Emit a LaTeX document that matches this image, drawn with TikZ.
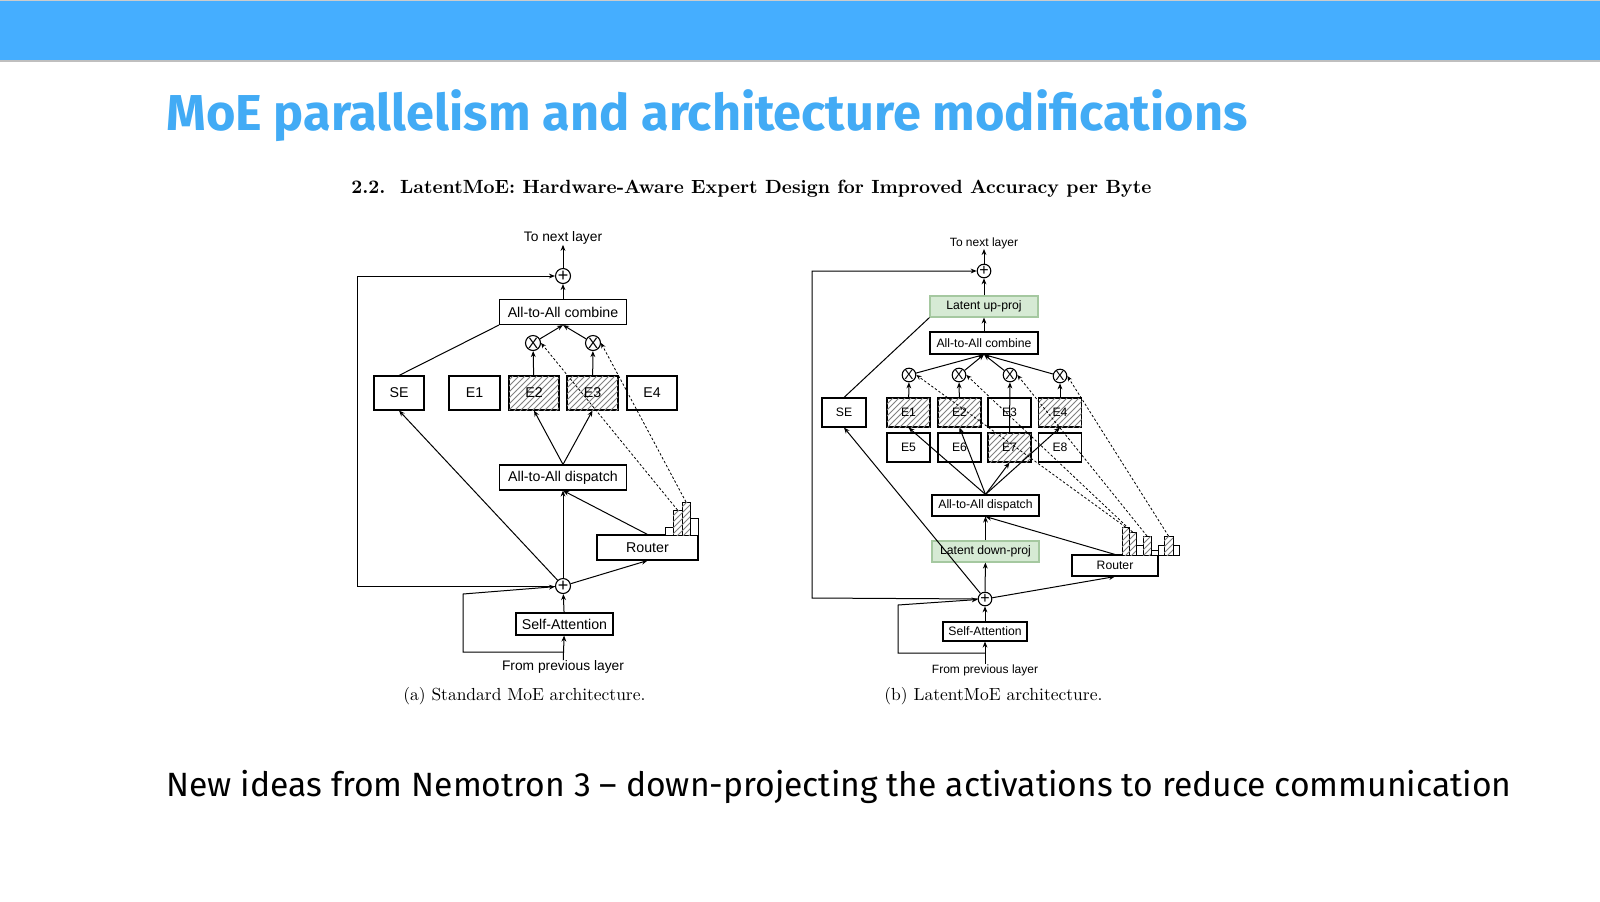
\documentclass[tikz,border=0pt]{standalone}
\usepackage{fontspec}
\usepackage{graphicx}
\usetikzlibrary{arrows.meta,patterns}
\newfontfamily\arial{Liberation Sans}
\newfontfamily\fira{Fira Sans}
\definecolor{barblue}{RGB}{69,174,255}
\definecolor{titleblue}{RGB}{66,171,245}
\definecolor{lgreen}{RGB}{214,234,212}
\definecolor{dgreen}{RGB}{165,200,160}
\begin{document}
\begin{tikzpicture}[x=0.5pt,y=-0.5pt,
  arr/.style={-{Stealth[length=3pt,width=2.4pt]},line width=0.5pt},
  ln/.style={line width=0.5pt},
  dot/.style={-{Stealth[length=2.6pt,width=2.2pt]},line width=0.4pt,dash pattern=on 1.2pt off 1pt},
  boxL/.style={draw,line width=0.55pt,fill=white,inner sep=0,font=\fontsize{7.1}{8}\arial,minimum height=12.5pt},
  boxR/.style={draw,line width=0.55pt,fill=white,inner sep=0,font=\fontsize{6.1}{7}\arial,minimum height=10.5pt},
  hat/.style={postaction={pattern=north east lines,pattern color=gray}},
  grn/.style={fill=lgreen,draw=dgreen},
  circL/.style={draw,circle,line width=0.55pt,fill=white,inner sep=0,minimum size=7.5pt,font=\fontsize{9}{9}\arial},
  circR/.style={draw,circle,line width=0.55pt,fill=white,inner sep=0,minimum size=6.8pt,font=\fontsize{8}{8}\arial},
  lblL/.style={font=\fontsize{6.9}{8}\arial,inner sep=0},
  lblR/.style={font=\fontsize{6}{7}\arial,inner sep=0}]
\useasboundingbox (0,0) rectangle (1600,901);
\fill[white] (0,0) rectangle (1600,901);
\fill[barblue] (0,0) rectangle (1600,60);
\draw[gray!50,line width=1pt] (0,61) -- (1600,61);
\draw[gray!40,line width=0.6pt] (0,0.5) -- (1600,0.5);
\node[anchor=base west,inner sep=0] (title) at (166,130) {\resizebox{540.5pt}{!}{\fira\fontsize{26}{30}\selectfont\bfseries\color{titleblue}MoE parallelism and architecture modifications}};
\node[anchor=base west,inner sep=0] (head) at (351,193) {\resizebox{400pt}{!}{\bfseries 2.2.\ \ LatentMoE: Hardware-Aware Expert Design for Improved Accuracy per Byte}};
\node[anchor=base west,inner sep=0] (bottom) at (166,796) {\resizebox{672.5pt}{!}{\fira\fontsize{16}{20}\selectfont New ideas from Nemotron 3 \textendash{} down-projecting the activations to reduce communication}};
\node[anchor=base west,inner sep=0] (capa) at (403,700) {\resizebox{121pt}{!}{(a) Standard MoE architecture.}};
\node[anchor=base west,inner sep=0] (capb) at (884,700) {\resizebox{109pt}{!}{(b) LatentMoE architecture.}};

% ===== Left diagram =====
\node[lblL] (nextL) at (563,238) {To next layer};
\node[circL] (pTL) at (563,276) {+};
\node[boxL,minimum width=63.5pt] (combL) at (563,312) {All-to-All combine};
\node[circL,font=\fontsize{7.5}{8}\arial] (xaL) at (533,343) {X};
\node[circL,font=\fontsize{7.5}{8}\arial] (xbL) at (593,343) {X};
\node[boxL,minimum width=25pt,minimum height=17pt] (SEL) at (399,393) {SE};
\node[boxL,minimum width=25.5pt,minimum height=17pt] (E1L) at (474.5,393) {E1};
\node[boxL,minimum width=25pt,minimum height=17pt,hat] (E2L) at (534,393) {E2};
\node[boxL,minimum width=25.5pt,minimum height=17pt,hat] (E3L) at (592.5,393) {E3};
\node[boxL,minimum width=25pt,minimum height=17pt] (E4L) at (652,393) {E4};
\node[boxL,minimum width=63.5pt] (dispL) at (563,477.5) {All-to-All dispatch};
\node[boxL,minimum width=50.5pt] (routL) at (647.5,547.5) {Router};
\node[circL] (pBL) at (563,586) {+};
\node[boxL,minimum width=48.5pt,minimum height=11pt] (saL) at (564.5,624) {Self-Attention};
\node[lblL] (fromL) at (563,667) {From previous layer};
% bars
\draw[ln,fill=white] (665,535) rectangle (673,527);
\draw[ln,fill=white,hat] (673,535) rectangle (682,510);
\draw[ln,fill=white,hat] (682,535) rectangle (690,502);
\draw[ln,fill=white] (690,535) rectangle (698,518);
\coordinate (b2L) at (677.5,510);
\coordinate (b3L) at (686,502);
% connectors
\draw[arr] (fromL) -- (saL);
\draw[arr] (saL) -- (pBL);
\coordinate (l3) at (563,652); \coordinate (l4) at (463,652); \coordinate (l5) at (463,594);
\draw[arr] (l3) -- (l4) -- (l5) -- (pBL);
\coordinate (l1) at (357,586); \coordinate (l2) at (357,276);
\draw[arr] (pBL) -- (l1) -- (l2) -- (pTL);
\draw[arr] (pBL) -- (dispL);
\draw[arr] (pBL) -- (SEL.south);
\draw[arr] (pBL) -- (routL.south);
\draw[arr] (routL.north) -- (dispL.south);
\draw[arr] (dispL.north) -- (E2L.south);
\draw[arr] (dispL.north) -- (E3L.south);
\draw[arr] (E2L) -- (xaL);
\draw[arr] (E3L) -- (xbL);
\draw[arr] (xaL) -- (combL.south);
\draw[arr] (xbL) -- (combL.south);
\draw[ln] (SEL.north) -- (combL.south west);
\draw[arr] (combL) -- (pTL);
\draw[arr] (pTL) -- (nextL);
\draw[dot] (b2L) -- (xaL.east);
\draw[dot] (b3L) -- (xbL.east);

% ===== Right diagram =====
\node[lblR] (nextR) at (984,243) {To next layer};
\node[circR] (pTR) at (984,271) {+};
\node[boxR,grn,minimum width=54pt] (upR) at (984,306.5) {Latent up-proj};
\node[boxR,minimum width=54pt,minimum height=11pt] (combR) at (984,343) {All-to-All combine};
\node[circR,font=\fontsize{6.8}{7}\arial] (x1R) at (909,375) {X};
\node[circR,font=\fontsize{6.8}{7}\arial] (x2R) at (959,375) {X};
\node[circR,font=\fontsize{6.8}{7}\arial] (x3R) at (1010,375) {X};
\node[circR,font=\fontsize{6.8}{7}\arial] (x4R) at (1060,376) {X};
\node[boxR,minimum width=22pt,minimum height=14.5pt] (SER) at (844,412.5) {SE};
\node[boxR,minimum width=21.5pt,minimum height=14.5pt,hat] (E1R) at (908.5,412.5) {E1};
\node[boxR,minimum width=21.5pt,minimum height=14.5pt,hat] (E2R) at (959.5,412.5) {E2};
\node[boxR,minimum width=21.5pt,minimum height=14.5pt] (E3R) at (1009.5,412.5) {E3};
\node[boxR,minimum width=21.5pt,minimum height=14.5pt,hat] (E4R) at (1060,412.5) {E4};
\node[boxR,minimum width=21.5pt,minimum height=14.5pt] (E5R) at (908.5,447.5) {E5};
\node[boxR,minimum width=21.5pt,minimum height=14.5pt] (E6R) at (959.5,447.5) {E6};
\node[boxR,minimum width=21.5pt,minimum height=14.5pt,hat] (E7R) at (1009.5,447.5) {E7};
\node[boxR,minimum width=21.5pt,minimum height=14.5pt] (E8R) at (1060,447.5) {E8};
\node[boxR,minimum width=53.5pt] (dispR) at (985.5,505.5) {All-to-All dispatch};
\node[boxR,grn,minimum width=53.5pt] (downR) at (985.5,551.5) {Latent down-proj};
\node[boxR,minimum width=43pt] (routR) at (1115,565.5) {Router};
\node[circR] (pBR) at (985,599) {+};
\node[boxR,minimum width=42pt,minimum height=9.5pt] (saR) at (985,631.5) {Self-Attention};
\node[lblR] (fromR) at (985,670) {From previous layer};
% bars
\draw[ln,fill=white,hat] (1122,555) rectangle (1129,527);
\draw[ln,fill=white,hat] (1129,555) rectangle (1136,532);
\draw[ln,fill=white] (1136,555) rectangle (1143,545);
\draw[ln,fill=white,hat] (1143,555) rectangle (1151,536);
\draw[ln,fill=white] (1151,555) rectangle (1158,550);
\draw[ln,fill=white] (1158,555) rectangle (1164,545);
\draw[ln,fill=white,hat] (1164,555) rectangle (1173,536);
\draw[ln,fill=white] (1173,555) rectangle (1179,545);
\coordinate (b1R) at (1125.5,527);
\coordinate (b2R) at (1132.5,532);
\coordinate (b3R) at (1147,536);
\coordinate (b4R) at (1168.5,536);
% connectors
\draw[arr] (fromR) -- (saR);
\draw[arr] (saR) -- (pBR);
\coordinate (r3) at (985,653); \coordinate (r4) at (898,653); \coordinate (r5) at (898,605);
\draw[arr] (r3) -- (r4) -- (r5) -- (pBR);
\coordinate (r1) at (812,598); \coordinate (r2) at (812,271);
\draw[arr] (pBR) -- (r1) -- (r2) -- (pTR);
\draw[arr] (pBR) -- (downR);
\draw[arr] (downR) -- (dispR);
\draw[arr] (pBR) -- (SER.south);
\draw[arr] (pBR) -- (routR.south);
\draw[arr] (routR.north) -- (dispR.south);
\draw[arr] (dispR.north) -- (E1R.south);
\draw[arr] (dispR.north) -- (E2R.south);
\draw[arr] (dispR.north) -- (E7R.south);
\draw[arr] (dispR.north) -- (E4R.south);
\draw[arr] (E1R) -- (x1R);
\draw[arr] (E2R) -- (x2R);
\draw[arr] (E7R.north) -- (x3R);
\draw[arr] (E4R) -- (x4R);
\foreach \x in {x1R,x2R,x3R,x4R} \draw[arr] (\x) -- (combR.south);
\draw[arr] (combR) -- (upR);
\draw[arr] (upR) -- (pTR);
\draw[arr] (pTR) -- (nextR);
\draw[ln] (SER.north) -- (upR.south west);
\draw[dot] (b1R) -- (x1R.east);
\draw[dot] (b2R) -- (x2R.east);
\draw[dot] (b3R) -- (x3R.east);
\draw[dot] (b4R) -- (x4R.east);
\end{tikzpicture}
\end{document}
